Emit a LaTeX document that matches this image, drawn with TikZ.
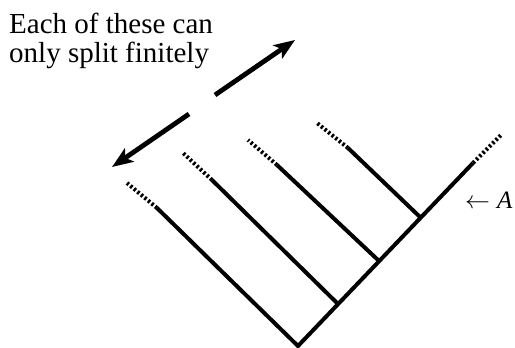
\documentclass[tikz,border=0pt]{standalone}
\usepackage{fontspec}
\setmainfont{Liberation Serif}
\usetikzlibrary{arrows.meta}

\begin{document}
\begin{tikzpicture}[x=1pt, y=-1pt,
  branch/.style={line width=4pt},
  frayed/.style={line width=4pt, dash pattern=on 2.4pt off 2.2pt},
  bigarrow/.style={line width=4.8pt, -{Stealth[length=21pt, width=16pt, inset=5pt]}},
  lbl/.style={font=\fontsize{29}{29}\selectfont, inner sep=0},
  tag/.style={font=\fontsize{25}{25}\selectfont, inner sep=0}
]
\useasboundingbox (0,0) rectangle (515,348);

% junctions on the main branch
\coordinate (root) at (298,346);
\coordinate (j1) at (337,303);
\coordinate (j2) at (378,260);
\coordinate (j3) at (420,217);

% solid ends and frayed ends of the branches
\foreach \i/\sx/\sy/\dx/\dy in {0/157/208/127/183, 1/212/180/182/152, 2/277/165/248/140, 3/348/148/317/123, 4/473/163/502/134}{
  \coordinate (s\i) at (\sx,\sy);
  \coordinate (d\i) at (\dx,\dy);
}

% branches
\draw[branch] (s0) -- (root) -- (s4);
\draw[branch] (j1) -- (s1);
\draw[branch] (j2) -- (s2);
\draw[branch] (j3) -- (s3);
\foreach \i in {0,...,4}{
  \draw[frayed] (s\i) -- (d\i);
}

% split double arrow
\coordinate (tipL) at (112,167);
\coordinate (gapL) at (189,114);
\coordinate (gapU) at (215,95);
\coordinate (tipU) at (295,40);
\draw[bigarrow] (gapL) -- (tipL);
\draw[bigarrow] (gapU) -- (tipU);

% labels
\node[lbl, anchor=base west, align=left] (note) at (9,62) {Each of these can\\only split finitely};
\node[tag, anchor=base west] (markA) at (465,208) {$\leftarrow$\hspace{7pt}\textit{A}};
\end{tikzpicture}
\end{document}
